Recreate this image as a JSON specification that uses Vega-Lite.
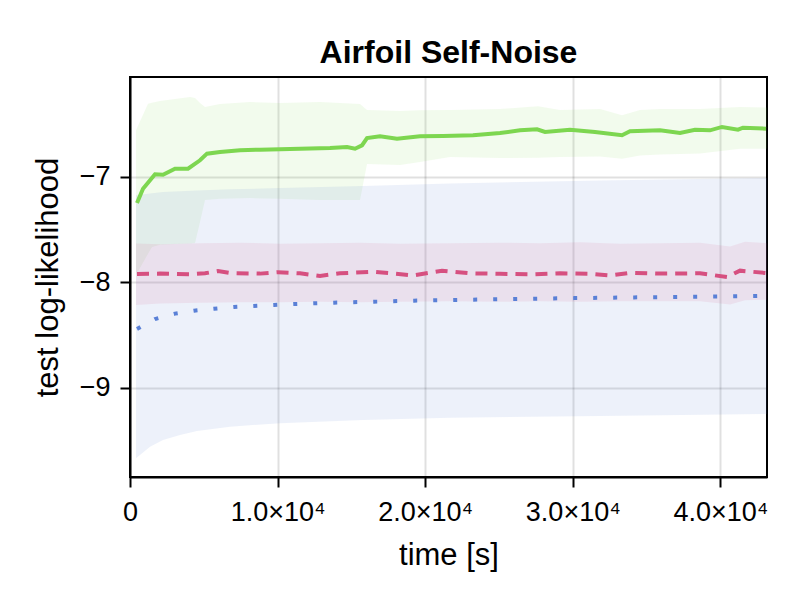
{
  "$schema": "https://vega.github.io/schema/vega-lite/v6.json",
  "width": 637,
  "height": 400,
  "autosize": {"type": "none"},
  "padding": {"left": 130, "top": 77, "right": 33, "bottom": 123},
  "background": "white",
  "title": {"text": "Airfoil Self-Noise", "font": "Liberation Sans", "fontSize": 32, "fontWeight": "bold", "color": "black", "anchor": "middle", "frame": "group", "baseline": "alphabetic", "offset": -18},
  "config": {
    "view": {"stroke": "black", "strokeWidth": 2},
    "axis": {
      "domainColor": "black", "domainWidth": 2, "tickColor": "black", "tickWidth": 2, "tickSize": 10,
      "labelFont": "Liberation Sans", "labelFontSize": 27, "labelColor": "black",
      "titleFont": "Liberation Sans", "titleFontSize": 31, "titleFontWeight": "normal", "titleColor": "black",
      "gridColor": "black", "gridOpacity": 0.12, "gridWidth": 2
    },
    "axisX": {"labelPadding": 12, "titlePadding": 15, "labelFlush": false, "labelOverlap": false},
    "axisY": {"labelPadding": 10, "titlePadding": 15}
  },
  "datasets": {
    "green_band": [
      {"t": 406, "lo": -7.93, "hi": -6.56},
      {"t": 1220, "lo": -7.73, "hi": -6.31},
      {"t": 1491, "lo": -7.666, "hi": -6.30},
      {"t": 2033, "lo": -7.645, "hi": -6.283},
      {"t": 3049, "lo": -7.637, "hi": -6.264},
      {"t": 4065, "lo": -7.632, "hi": -6.245},
      {"t": 4404, "lo": -7.628, "hi": -6.255},
      {"t": 4743, "lo": -7.43, "hi": -6.302},
      {"t": 5081, "lo": -7.221, "hi": -6.34},
      {"t": 6098, "lo": -7.21, "hi": -6.312},
      {"t": 8130, "lo": -7.202, "hi": -6.293},
      {"t": 10163, "lo": -7.21, "hi": -6.302},
      {"t": 12873, "lo": -7.221, "hi": -6.293},
      {"t": 15583, "lo": -7.221, "hi": -6.312},
      {"t": 16057, "lo": -6.88, "hi": -6.368},
      {"t": 18293, "lo": -6.89, "hi": -6.378},
      {"t": 19648, "lo": -6.861, "hi": -6.37},
      {"t": 21680, "lo": -6.814, "hi": -6.368},
      {"t": 25068, "lo": -6.823, "hi": -6.359},
      {"t": 27642, "lo": -6.82, "hi": -6.333},
      {"t": 29133, "lo": -6.814, "hi": -6.368},
      {"t": 31843, "lo": -6.81, "hi": -6.359},
      {"t": 33333, "lo": -6.83, "hi": -6.419},
      {"t": 34553, "lo": -6.80, "hi": -6.368},
      {"t": 35908, "lo": -6.79, "hi": -6.36},
      {"t": 38618, "lo": -6.78, "hi": -6.359},
      {"t": 41328, "lo": -6.735, "hi": -6.34},
      {"t": 43156, "lo": -6.735, "hi": -6.346}
    ],
    "blue_band": [
      {"t": 406, "lo": -9.667, "hi": -7.176},
      {"t": 1355, "lo": -9.557, "hi": -7.16},
      {"t": 2236, "lo": -9.493, "hi": -7.145},
      {"t": 3388, "lo": -9.446, "hi": -7.137},
      {"t": 4539, "lo": -9.408, "hi": -7.13},
      {"t": 6775, "lo": -9.367, "hi": -7.12},
      {"t": 10163, "lo": -9.335, "hi": -7.107},
      {"t": 15786, "lo": -9.304, "hi": -7.088},
      {"t": 21680, "lo": -9.282, "hi": -7.064},
      {"t": 31843, "lo": -9.266, "hi": -7.036},
      {"t": 43156, "lo": -9.247, "hi": -7.012}
    ],
    "pink_band": [
      {"t": 406, "lo": -8.215, "hi": -7.633},
      {"t": 2033, "lo": -8.20, "hi": -7.64},
      {"t": 4743, "lo": -8.195, "hi": -7.63},
      {"t": 7453, "lo": -8.19, "hi": -7.625},
      {"t": 10163, "lo": -8.19, "hi": -7.635},
      {"t": 12873, "lo": -8.185, "hi": -7.63},
      {"t": 15583, "lo": -8.19, "hi": -7.625},
      {"t": 18293, "lo": -8.185, "hi": -7.635},
      {"t": 21680, "lo": -8.18, "hi": -7.63},
      {"t": 25068, "lo": -8.185, "hi": -7.625},
      {"t": 27778, "lo": -8.18, "hi": -7.63},
      {"t": 30488, "lo": -8.185, "hi": -7.62},
      {"t": 33198, "lo": -8.18, "hi": -7.635},
      {"t": 35908, "lo": -8.18, "hi": -7.63},
      {"t": 38618, "lo": -8.18, "hi": -7.625},
      {"t": 40650, "lo": -8.21, "hi": -7.66},
      {"t": 41666, "lo": -8.17, "hi": -7.615},
      {"t": 43156, "lo": -8.165, "hi": -7.63}
    ],
    "green_mean": [
      {"t": 474, "v": -7.249}, {"t": 881, "v": -7.114}, {"t": 1694, "v": -6.977}, {"t": 2236, "v": -6.981},
      {"t": 3049, "v": -6.924}, {"t": 3930, "v": -6.924}, {"t": 4743, "v": -6.845}, {"t": 5217, "v": -6.782},
      {"t": 6098, "v": -6.766}, {"t": 7453, "v": -6.750}, {"t": 8808, "v": -6.744}, {"t": 10163, "v": -6.741},
      {"t": 11518, "v": -6.735}, {"t": 13550, "v": -6.728}, {"t": 14702, "v": -6.719}, {"t": 15244, "v": -6.735},
      {"t": 15718, "v": -6.703}, {"t": 16057, "v": -6.634}, {"t": 16938, "v": -6.617}, {"t": 18089, "v": -6.640},
      {"t": 19648, "v": -6.617}, {"t": 21206, "v": -6.615}, {"t": 23238, "v": -6.608}, {"t": 25068, "v": -6.586},
      {"t": 26423, "v": -6.561}, {"t": 27575, "v": -6.551}, {"t": 28117, "v": -6.577}, {"t": 29810, "v": -6.555},
      {"t": 31504, "v": -6.577}, {"t": 33333, "v": -6.608}, {"t": 33875, "v": -6.570}, {"t": 35908, "v": -6.561},
      {"t": 37263, "v": -6.586}, {"t": 38279, "v": -6.555}, {"t": 39295, "v": -6.561}, {"t": 40108, "v": -6.529},
      {"t": 41192, "v": -6.555}, {"t": 41531, "v": -6.536}, {"t": 43089, "v": -6.545}
    ],
    "blue_mean": [
      {"t": 474, "v": -8.442}, {"t": 1694, "v": -8.348}, {"t": 3049, "v": -8.297}, {"t": 4336, "v": -8.269},
      {"t": 5691, "v": -8.250}, {"t": 7046, "v": -8.234}, {"t": 8401, "v": -8.224}, {"t": 9756, "v": -8.215},
      {"t": 11111, "v": -8.206}, {"t": 13821, "v": -8.193}, {"t": 16531, "v": -8.184}, {"t": 19241, "v": -8.174},
      {"t": 21951, "v": -8.168}, {"t": 26016, "v": -8.158}, {"t": 30081, "v": -8.150}, {"t": 34146, "v": -8.143},
      {"t": 38211, "v": -8.137}, {"t": 42276, "v": -8.130}, {"t": 43156, "v": -8.128}
    ],
    "pink_mean": [
      {"t": 474, "v": -7.921}, {"t": 2033, "v": -7.918}, {"t": 4065, "v": -7.925}, {"t": 5081, "v": -7.915},
      {"t": 5962, "v": -7.894}, {"t": 6775, "v": -7.912}, {"t": 8808, "v": -7.918}, {"t": 10027, "v": -7.905},
      {"t": 11518, "v": -7.915}, {"t": 12873, "v": -7.94}, {"t": 14228, "v": -7.915}, {"t": 16463, "v": -7.90},
      {"t": 17954, "v": -7.918}, {"t": 19173, "v": -7.935}, {"t": 21138, "v": -7.89}, {"t": 23035, "v": -7.915},
      {"t": 25068, "v": -7.92}, {"t": 27100, "v": -7.925}, {"t": 29133, "v": -7.915}, {"t": 31165, "v": -7.92},
      {"t": 32520, "v": -7.935}, {"t": 33875, "v": -7.91}, {"t": 35908, "v": -7.918}, {"t": 38618, "v": -7.915},
      {"t": 40447, "v": -7.95}, {"t": 41328, "v": -7.89}, {"t": 43156, "v": -7.913}
    ]
  },
  "encoding": {
    "x": {"field": "t", "type": "quantitative", "scale": {"domain": [0, 43156], "nice": false, "zero": false},
      "axis": {"title": "time [s]", "values": [0, 10000, 20000, 30000, 40000], "labelExpr": "datum.value == 0 ? '0' : format(datum.value / 10000, '.1f') + '×10⁴'"}}
  },
  "layer": [
    {
      "data": {"name": "green_band"},
      "mark": {"type": "area", "color": "#7dd650", "opacity": 0.1, "clip": true},
      "encoding": {
        "y": {"field": "lo", "type": "quantitative", "scale": {"domain": [-9.844, -6.056], "nice": false, "zero": false}, "axis": {"title": "test log-likelihood", "values": [-9, -8, -7]}},
        "y2": {"field": "hi"}
      }
    },
    {
      "data": {"name": "blue_band"},
      "mark": {"type": "area", "color": "#5a80d6", "opacity": 0.11, "clip": true},
      "encoding": {
        "y": {"field": "lo", "type": "quantitative", "scale": {"domain": [-9.844, -6.056], "nice": false, "zero": false}, "axis": {"title": "test log-likelihood", "values": [-9, -8, -7]}},
        "y2": {"field": "hi"}
      }
    },
    {
      "data": {"name": "pink_band"},
      "mark": {"type": "area", "color": "#d65080", "opacity": 0.1, "clip": true},
      "encoding": {
        "y": {"field": "lo", "type": "quantitative", "scale": {"domain": [-9.844, -6.056], "nice": false, "zero": false}, "axis": {"title": "test log-likelihood", "values": [-9, -8, -7]}},
        "y2": {"field": "hi"}
      }
    },
    {
      "data": {"name": "blue_mean"},
      "mark": {"type": "line", "color": "#5a80d6", "strokeWidth": 4, "strokeDash": [4, 16], "strokeCap": "butt", "clip": true},
      "encoding": {
        "y": {"field": "v", "type": "quantitative", "scale": {"domain": [-9.844, -6.056], "nice": false, "zero": false}, "axis": {"title": "test log-likelihood", "values": [-9, -8, -7]}}
      }
    },
    {
      "data": {"name": "pink_mean"},
      "mark": {"type": "line", "color": "#d65080", "strokeWidth": 4, "strokeDash": [12, 8], "strokeCap": "butt", "clip": true},
      "encoding": {
        "y": {"field": "v", "type": "quantitative", "scale": {"domain": [-9.844, -6.056], "nice": false, "zero": false}, "axis": {"title": "test log-likelihood", "values": [-9, -8, -7]}}
      }
    },
    {
      "data": {"name": "green_mean"},
      "mark": {"type": "line", "color": "#7dd650", "strokeWidth": 4, "clip": true},
      "encoding": {
        "y": {"field": "v", "type": "quantitative", "scale": {"domain": [-9.844, -6.056], "nice": false, "zero": false}, "axis": {"title": "test log-likelihood", "values": [-9, -8, -7]}}
      }
    }
  ]
}
